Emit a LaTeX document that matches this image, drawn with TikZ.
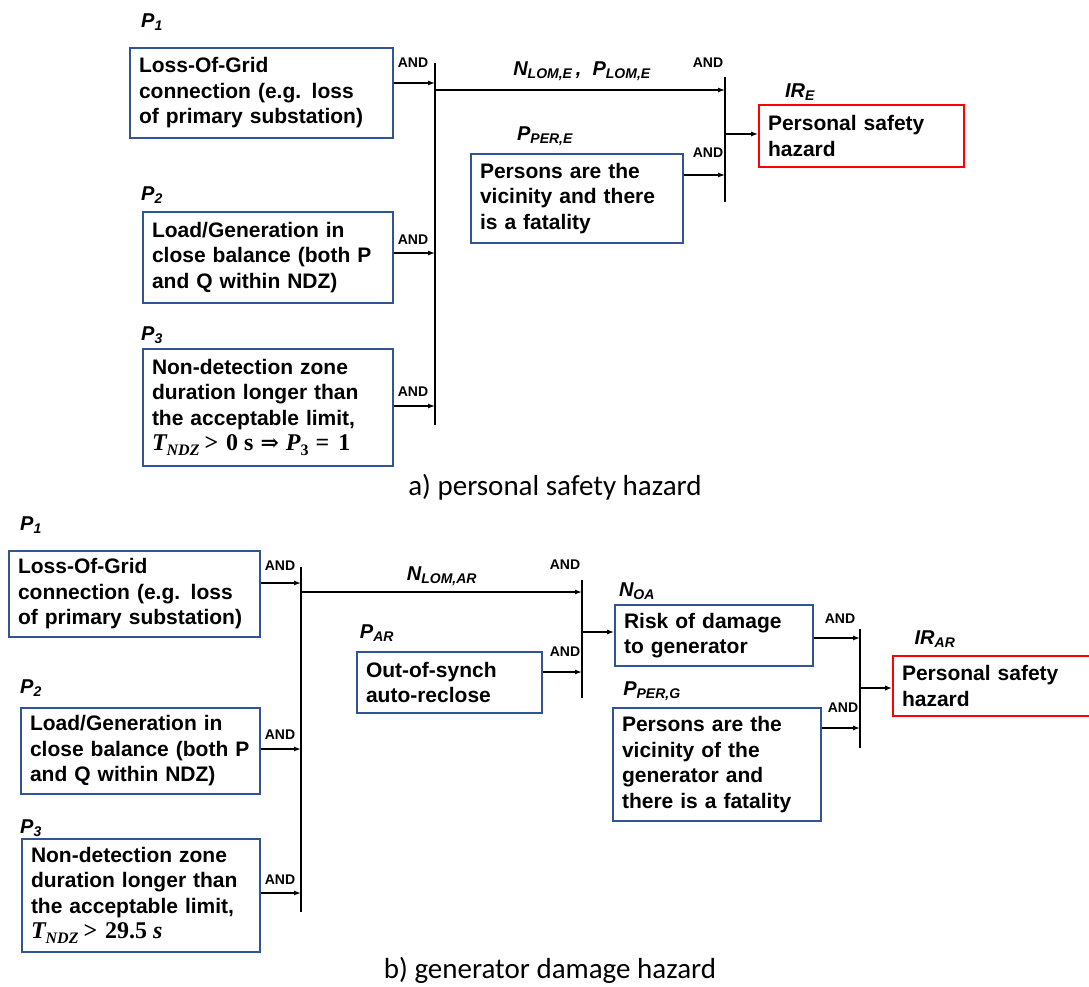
\documentclass[tikz,border=0pt]{standalone}
\usepackage{amsmath}
\usepackage[no-math]{fontspec}
\setmainfont{Liberation Sans}
\newfontfamily\capfont{Carlito}
\newfontfamily\mserif{Liberation Serif}
\newfontfamily\dvserif{DejaVu Serif}
\usetikzlibrary{arrows.meta,calc}
\definecolor{boxblue}{RGB}{47,85,151}
\definecolor{boxred}{RGB}{255,0,0}
\newcommand{\mthup}[1]{{\mserif\fontsize{24}{25.5}\selectfont\bfseries #1}}
\newcommand{\mthit}[1]{{\mserif\fontsize{24}{25.5}\selectfont\bfseries\itshape #1}}
\newcommand{\mthsub}[1]{{\mserif\bfseries\itshape\fontsize{16}{16}\selectfont\raisebox{-5pt}{#1}}}
\newcommand{\mthsubup}[1]{{\mserif\bfseries\fontsize{16}{16}\selectfont\raisebox{-5pt}{#1}}}
\newcommand{\mgap}[1]{\hspace*{#1}}
\tikzset{
 box/.style={draw=boxblue, line width=1.6pt, align=left, inner xsep=9pt, inner ysep=0pt, font=\fontsize{21}{25.5}\selectfont\bfseries},
 redbox/.style={box, draw=boxred},
 lbl/.style={font=\fontsize{20}{22}\selectfont\bfseries\itshape, inner sep=0pt},
 andlbl/.style={font=\fontsize{14}{16}\selectfont\bfseries, inner sep=0pt},
 arr/.style={-{Latex[length=7pt,width=5pt]}, line width=1.3pt},
 bar/.style={line width=1.8pt},
 captxt/.style={font=\capfont\fontsize{29}{32}\selectfont, inner sep=0pt}
}
\begin{document}
\begin{tikzpicture}[x=1pt,y=-1pt]
\useasboundingbox (0,0) rectangle (1089,987);

% ---------------- (a) ----------------
\node[box, minimum width=263pt, minimum height=90pt, text width=245pt] (a1) at (261.5,93) {Loss-Of-Grid\\connection (e.g. loss\\of primary substation)};
\node[box, minimum width=250pt, minimum height=91pt, text width=232pt] (a2) at (268,257.5) {Load/Generation in\\close balance (both P\\and Q within NDZ)};
\node[box, minimum width=250pt, minimum height=117pt, text width=232pt] (a3) at (268,407.5) {Non-detection zone\\duration longer than\\the acceptable limit,\\\mthit{T}\mthsub{NDZ}\mgap{5pt}\mthup{>}\mgap{8pt}\mthup{0}\mgap{6pt}\mthup{s}\mgap{7pt}{\dvserif\bfseries\fontsize{22}{22}\selectfont ⇒}\mgap{7pt}\mthit{P}\mthsubup{3}\mgap{7pt}\mthup{=}\mgap{9pt}\mthup{1}};
\node[box, minimum width=212pt, minimum height=89pt, text width=194pt] (aPE) at (577,198.5) {Persons are the\\vicinity and there\\is a fatality};
\node[redbox, minimum width=205pt, minimum height=62pt, text width=187pt] (rE) at (861.5,136) {Personal safety\\hazard};

\node[lbl] (lP1a) at (152,22) {P\textsubscript{1}};
\node[lbl] (lP2a) at (152,195) {P\textsubscript{2}};
\node[lbl] (lP3a) at (152,335) {P\textsubscript{3}};
\node[lbl] (lNa) at (582,71) {N\textsubscript{LOM,E}\,,\ \ P\textsubscript{LOM,E}};
\node[lbl] (lPEa) at (545,136) {P\textsubscript{PER,E}};
\node[lbl] (lIRE) at (800,92) {IR\textsubscript{E}};

\node[andlbl] (and1) at (413,63) {AND};
\node[andlbl] (and2) at (413,240) {AND};
\node[andlbl] (and3) at (413,392) {AND};
\node[andlbl] (and4) at (708,63) {AND};
\node[andlbl] (and5) at (708,153) {AND};

\coordinate (aT) at (435,63);
\coordinate (aB) at (435,425);
\coordinate (bT) at (725,77);
\coordinate (bB) at (725,202);
\draw[bar] (aT) -- (aB);
\draw[bar] (bT) -- (bB);

\coordinate (a1o) at ([yshift=10pt]a1.east);
\coordinate (a2o) at ([yshift=4.5pt]a2.east);
\coordinate (a3o) at ([yshift=1.5pt]a3.east);
\coordinate (aPEo) at ([yshift=23.5pt]aPE.east);
\coordinate (aM) at (435,90);
\coordinate (bOut) at (725,134);
\draw[arr] (a1o) -- (a1o -| aT);
\draw[arr] (a2o) -- (a2o -| aT);
\draw[arr] (a3o) -- (a3o -| aT);
\draw[arr] (aM) -- (aM -| bT);
\draw[arr] (aPEo) -- (aPEo -| bT);
\draw[arr] (bOut) -- (bOut -| rE.west);

\node[captxt] (capA) at (555,487) {a) personal safety hazard};

% ---------------- (b) ----------------
\node[box, minimum width=251pt, minimum height=86pt, text width=233pt] (c1) at (134.5,594) {Loss-Of-Grid\\connection (e.g. loss\\of primary substation)};
\node[box, minimum width=239pt, minimum height=86pt, text width=221pt] (c2) at (140.5,751) {Load/Generation in\\close balance (both P\\and Q within NDZ)};
\node[box, minimum width=238pt, minimum height=113pt, text width=220pt] (c3) at (141,895.5) {Non-detection zone\\duration longer than\\the acceptable limit,\\\mthit{T}\mthsub{NDZ}\mgap{5pt}\mthup{>}\mgap{8pt}\mthup{29.5}\mgap{6pt}\mthit{s}};
\node[box, minimum width=185pt, minimum height=61pt, text width=167pt] (cAR) at (449.5,682.5) {Out-of-synch\\auto-reclose};
\node[box, minimum width=198pt, minimum height=61pt, text width=180pt] (cOA) at (714,635.5) {Risk of damage\\to generator};
\node[box, minimum width=208pt, minimum height=113pt, text width=190pt] (cPG) at (717,764.5) {Persons are the\\vicinity of the\\generator and\\there is a fatality};
\node[redbox, minimum width=202pt, minimum height=60pt, text width=184pt] (rAR) at (994,686) {Personal safety\\hazard};

\node[lbl] (lP1b) at (31,525) {P\textsubscript{1}};
\node[lbl] (lP2b) at (31,688) {P\textsubscript{2}};
\node[lbl] (lP3b) at (31,828) {P\textsubscript{3}};
\node[lbl] (lNb) at (442,576) {N\textsubscript{LOM,AR}};
\node[lbl] (lPAR) at (377,633) {P\textsubscript{AR}};
\node[lbl] (lNOA) at (637,591) {N\textsubscript{OA}};
\node[lbl] (lPG) at (652,691) {P\textsubscript{PER,G}};
\node[lbl] (lIRAR) at (935,639) {IR\textsubscript{AR}};

\node[andlbl] (and6) at (280,566) {AND};
\node[andlbl] (and7) at (280,735) {AND};
\node[andlbl] (and8) at (280,880) {AND};
\node[andlbl] (and9) at (565,565) {AND};
\node[andlbl] (and10) at (565,652) {AND};
\node[andlbl] (and11) at (840,619) {AND};
\node[andlbl] (and12) at (843,708) {AND};

\coordinate (cT) at (301,567);
\coordinate (cB) at (301,912);
\coordinate (dT) at (582,580);
\coordinate (dB) at (582,698);
\coordinate (eT) at (860,629);
\coordinate (eB) at (860,748);
\draw[bar] (cT) -- (cB);
\draw[bar] (dT) -- (dB);
\draw[bar] (eT) -- (eB);

\coordinate (c1o) at ([yshift=11pt]c1.east);
\coordinate (c2o) at ([yshift=2pt]c2.east);
\coordinate (c3o) at ([yshift=2.5pt]c3.east);
\coordinate (cM) at (301,592);
\coordinate (cARo) at ([yshift=10.5pt]cAR.east);
\coordinate (dOut) at (582,632);
\coordinate (cOAo) at ([yshift=-2.5pt]cOA.east);
\coordinate (cPGo) at ([yshift=36.5pt]cPG.east);
\coordinate (eOut) at (860,688);
\draw[arr] (c1o) -- (c1o -| cT);
\draw[arr] (c2o) -- (c2o -| cT);
\draw[arr] (c3o) -- (c3o -| cT);
\draw[arr] (cM) -- (cM -| dT);
\draw[arr] (cARo) -- (cARo -| dT);
\draw[arr] (dOut) -- (dOut -| cOA.west);
\draw[arr] (cOAo) -- (cOAo -| eT);
\draw[arr] (cPGo) -- (cPGo -| eT);
\draw[arr] (eOut) -- (eOut -| rAR.west);

\node[captxt] (capB) at (550,970) {b) generator damage hazard};
\end{tikzpicture}
\end{document}
